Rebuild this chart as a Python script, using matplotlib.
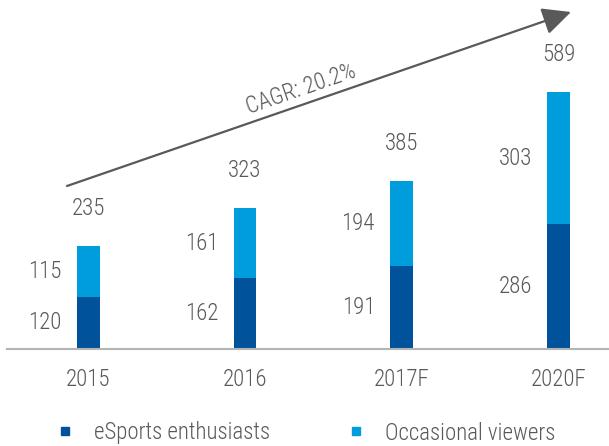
import matplotlib
matplotlib.use("Agg")
import matplotlib.pyplot as plt
from matplotlib.lines import Line2D
from matplotlib import font_manager

# Data
years = ["2015", "2016", "2017F", "2020F"]
enthusiasts = [120, 162, 191, 286]
occasional = [115, 161, 194, 303]
series_names = ["eSports enthusiasts", "Occasional viewers"]
cagr_label = "CAGR: 20.2%"

DARK = "#00529b"
LIGHT = "#009ddc"
TEXT = "#595959"

available = {f.name for f in font_manager.fontManager.ttflist}
candidates = ["Roboto Condensed", "Liberation Sans Narrow", "Open Sans Condensed",
              "Roboto", "DejaVu Sans"]
family = [f for f in candidates if f in available]
plt.rcParams["font.family"] = family
plt.rcParams["font.weight"] = "light"

W, H, DPI = 609, 446, 100
fig = plt.figure(figsize=(W / DPI, H / DPI), dpi=DPI)
ax = fig.add_axes([7 / W, (H - 349) / H, 1 - 7 / W, 349 / H])

x = list(range(len(years)))
bw = 0.145
ax.bar(x, enthusiasts, width=bw, color=DARK, zorder=2)
ax.bar(x, occasional, width=bw, bottom=enthusiasts, color=LIGHT, zorder=2)

ax.set_xlim(-0.519, 3.323)
ax.set_ylim(0, 800)

fs = 16.5
for i in x:
    e, o = enthusiasts[i], occasional[i]
    left = i - bw / 2
    ax.annotate(str(e), (left, e / 2), xytext=(-11, 0), textcoords="offset points",
                ha="right", va="center", fontsize=fs, color=TEXT)
    ax.annotate(str(o), (left, e + o / 2), xytext=(-11, 0), textcoords="offset points",
                ha="right", va="center", fontsize=fs, color=TEXT)
    ax.annotate(str(e + o), (i, e + o), xytext=(0, 27), textcoords="offset points",
                ha="center", va="center", fontsize=fs, color=TEXT)

for s in ["top", "right", "left"]:
    ax.spines[s].set_visible(False)
ax.spines["bottom"].set_color("#b4b4b4")
ax.spines["bottom"].set_linewidth(1.5)
ax.set_yticks([])
ax.set_xticks(x)
ax.set_xticklabels(years, fontsize=fs, color=TEXT)
ax.tick_params(axis="x", length=0, pad=14)

# Growth arrow
def fp(px, py):
    return (px / W, 1 - py / H)

fig.add_artist(matplotlib.patches.FancyArrowPatch(
    fp(67, 186), fp(571, 12), transform=fig.transFigure,
    arrowstyle="-|>,head_length=1.25,head_width=0.6", mutation_scale=14,
    color=TEXT, lw=1.6, shrinkA=0, shrinkB=0))
fig.text(*fp(301, 89), cagr_label, rotation=19, ha="center", va="center",
         fontsize=fs, color=TEXT, rotation_mode="anchor")

handles = [Line2D([], [], marker="s", ls="none", color=c, markersize=6)
           for c in (DARK, LIGHT)]
fig.legend(handles, series_names, loc="center left", bbox_to_anchor=fp(56, 433),
           ncol=2, frameon=False, fontsize=fs, labelcolor=TEXT,
           handlelength=0.8, handletextpad=0.85, columnspacing=3.35,
           borderpad=0, borderaxespad=0)

fig.savefig("out.png", dpi=DPI)
